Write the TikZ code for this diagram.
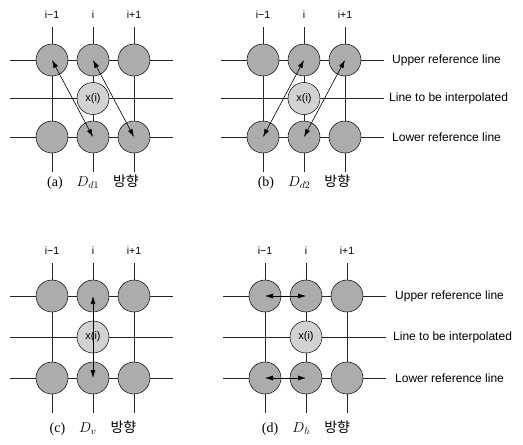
\documentclass[tikz,border=0pt]{standalone}
\usepackage{fontspec}
\setmainfont{Liberation Serif}
\setsansfont{Liberation Sans}
\newfontfamily\kofont{Noto Sans CJK KR}
\usetikzlibrary{arrows.meta,positioning}
\tikzset{
  gridline/.style={line width=0.5pt, draw=black!85},
  refpixel/.style={
    circle,
    draw=black,
    line width=0.5pt,
    fill=gray!65,
    minimum size=32pt,
    inner sep=0pt
  },
  newpixel/.style={
    refpixel,
    fill=gray!35,
    font=\sffamily\fontsize{11}{12}\selectfont
  },
  collabel/.style={font=\sffamily\fontsize{10.5}{12}\selectfont},
  linelabel/.style={font=\sffamily\fontsize{12}{14}\selectfont, anchor=west, inner sep=0pt},
  dirarrow/.style={
    {Latex[length=8pt,width=5pt]}-{Latex[length=8pt,width=5pt]},
    line width=0.6pt
  },
  caption/.style={font=\rmfamily\fontsize{14}{16}\selectfont}
}
% one 3x3 neighbourhood, upper-left pixel at the scope origin
% #1 = name prefix, #2 = row spacing
\newcommand\pixelgrid[2]{%
  \foreach \c in {0,1,2}
    \draw[gridline] (\c*41,-33) -- (\c*41,2*#2+35);
  \foreach \r in {0,1,2}
    \draw[gridline] (-42,\r*#2) -- (121,\r*#2);
  \foreach \c/\t in {0/i−1,1/i,2/i+1}
    \node[collabel] (#1c\c) at (\c*41,-45) {\t};
  \foreach \c in {0,1,2} {
    \node[refpixel] (#1u\c) at (\c*41,0) {};
    \node[refpixel] (#1l\c) at (\c*41,2*#2) {};
  }
  \node[newpixel] (#1x) at (41,#2) {x(i)};
}

\begin{document}
\begin{tikzpicture}[x=1pt,y=-1pt]
\useasboundingbox (0,0) rectangle (523,445);

% (a) D_d1
\begin{scope}[shift={(52,60)}]
  \pixelgrid{a}{38.5}
  \draw[dirarrow] (au0.center) -- (al1.center);
  \draw[dirarrow] (au1.center) -- (al2.center);
  \node[caption] (acap) at (41,122) {(a)\quad$D_{d1}$\quad{\kofont 방향}};
\end{scope}

% (b) D_d2
\begin{scope}[shift={(263,60)}]
  \pixelgrid{b}{38.5}
  \draw[dirarrow] (bl0.center) -- (bu1.center);
  \draw[dirarrow] (bl1.center) -- (bu2.center);
  \node[caption] (bcap) at (41,122) {(b)\quad$D_{d2}$\quad{\kofont 방향}};
  \node[linelabel] (bup) at (129,0) {Upper reference line};
  \node[linelabel] (bmid) at (126,38.5) {Line to be interpolated};
  \node[linelabel] (blow) at (129,77) {Lower reference line};
\end{scope}

% (c) D_v
\begin{scope}[shift={(52,296)}]
  \pixelgrid{c}{41}
  \draw[dirarrow] (cu1.center) -- (cl1.center);
  \node[caption] (ccap) at (41,132) {(c)\quad$D_{v}$\quad{\kofont 방향}};
\end{scope}

% (d) D_h
\begin{scope}[shift={(265,296)}]
  \pixelgrid{d}{41}
  \draw[dirarrow] (du0.center) -- (du1.center);
  \draw[dirarrow] (dl0.center) -- (dl1.center);
  \node[caption] (dcap) at (41,132) {(d)\quad$D_{h}$\quad{\kofont 방향}};
  \node[linelabel] (dup) at (130,0) {Upper reference line};
  \node[linelabel] (dmid) at (128,41) {Line to be interpolated};
  \node[linelabel] (dlow) at (130,82) {Lower reference line};
\end{scope}

\end{tikzpicture}
\end{document}
